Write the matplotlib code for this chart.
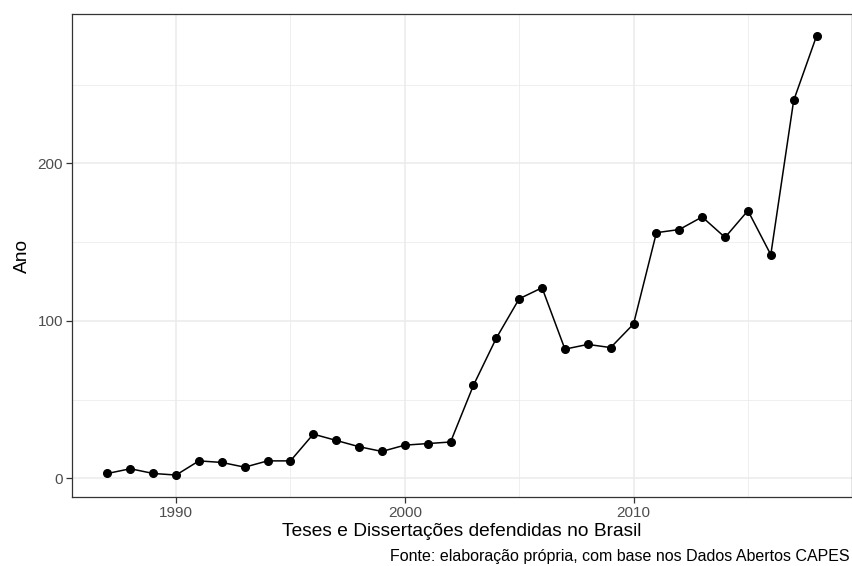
import matplotlib
matplotlib.use("Agg")
import matplotlib.pyplot as plt
from matplotlib.ticker import MultipleLocator

plt.rcParams['font.family'] = ['Liberation Sans', 'DejaVu Sans']

# Dados: número de teses e dissertações por ano
anos = list(range(1987, 2019))
quantidade = [3, 6, 3, 2, 11, 10, 7, 11, 11, 28, 24, 20, 17, 21, 22, 23,
              59, 89, 114, 121, 82, 85, 83, 98, 156, 158, 166, 153, 170, 142,
              240, 281]

fig = plt.figure(figsize=(8.53, 5.66), dpi=100)
ax = fig.add_axes([72 / 853, 1 - 497 / 566, (852 - 72) / 853, (497 - 14) / 566])

ax.plot(anos, quantidade, color='black', linewidth=1.1, marker='o',
        markersize=5.5, zorder=3)

# limites com expansão de 5% (estilo ggplot)
xr = max(anos) - min(anos)
ax.set_xlim(min(anos) - 0.05 * xr, max(anos) + 0.05 * xr)
yr = max(quantidade) - min(quantidade)
ax.set_ylim(min(quantidade) - 0.05 * yr, max(quantidade) + 0.05 * yr)

ax.xaxis.set_major_locator(MultipleLocator(10))
ax.xaxis.set_minor_locator(MultipleLocator(5))
ax.yaxis.set_major_locator(MultipleLocator(100))
ax.yaxis.set_minor_locator(MultipleLocator(50))

ax.grid(which='major', color='#EBEBEB', linewidth=1.1, zorder=0)
ax.grid(which='minor', color='#EBEBEB', linewidth=0.55, zorder=0)
ax.set_axisbelow(True)

for s in ax.spines.values():
    s.set_color('#333333')
    s.set_linewidth(0.9)

ax.tick_params(which='major', length=4, width=0.9, color='#333333',
               labelcolor='#4D4D4D', labelsize=11, pad=2.5)
ax.tick_params(which='minor', length=0)

ax.set_xlabel('Teses e Dissertações defendidas no Brasil', fontsize=13.8,
              labelpad=2)
ax.set_ylabel('Ano', fontsize=13.8, labelpad=5)

# legenda da fonte no canto inferior direito
fig.text(850 / 853, 2 / 566,
         'Fonte: elaboração própria, com base nos Dados Abertos CAPES',
         ha='right', va='bottom', fontsize=11.5)

fig.savefig('out.png', dpi=100)
